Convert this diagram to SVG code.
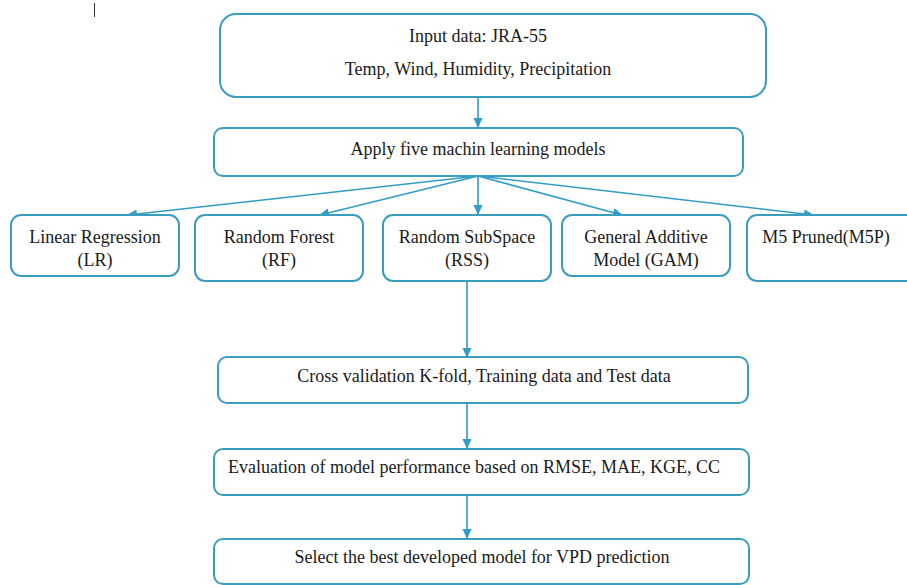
<svg xmlns="http://www.w3.org/2000/svg" width="907" height="585" viewBox="0 0 907 585">
<style>
.box{fill:#fff;stroke:#3b9dbd;stroke-width:2}
.t{font-family:'Liberation Serif','Times New Roman','DejaVu Serif',serif;font-size:18px;fill:#1a1a1a;text-anchor:middle}
.c{fill:none;stroke:#2f9dc6;stroke-width:1.6}
</style>
<defs>
<marker id="ah" markerWidth="10" markerHeight="10" refX="9" refY="5" orient="auto" markerUnits="userSpaceOnUse">
<path d="M0,0.5 L10,5 L0,9.5 Z" fill="#2f9dc6"/>
</marker>
</defs>
<rect width="907" height="585" fill="#fff"/>
<line x1="94.5" y1="3" x2="94.5" y2="17" stroke="#333" stroke-width="1"/>
<g id="connectors">
<line class="c" x1="478" y1="97" x2="478" y2="127" marker-end="url(#ah)"/>
<line class="c" x1="478" y1="176" x2="128" y2="215" marker-end="url(#ah)"/>
<line class="c" x1="478" y1="176" x2="320" y2="215" marker-end="url(#ah)"/>
<line class="c" x1="478" y1="176" x2="478" y2="214" marker-end="url(#ah)"/>
<line class="c" x1="478" y1="176" x2="622" y2="215" marker-end="url(#ah)"/>
<line class="c" x1="478" y1="176" x2="813" y2="215" marker-end="url(#ah)"/>
<line class="c" x1="467" y1="281" x2="467" y2="357" marker-end="url(#ah)"/>
<line class="c" x1="467" y1="403" x2="467" y2="448" marker-end="url(#ah)"/>
<line class="c" x1="467" y1="495" x2="467" y2="538" marker-end="url(#ah)"/>
</g>
<g id="input">
<rect class="box" x="220" y="14" width="546" height="83" rx="16"/>
<text class="t" x="478" y="42">Input data: JRA-55</text>
<text class="t" x="478" y="75">Temp, Wind, Humidity, Precipitation</text>
</g>
<g id="apply">
<rect class="box" x="214" y="128" width="529" height="48" rx="9"/>
<text class="t" x="478" y="155">Apply five machin learning models</text>
</g>
<g id="lr">
<rect class="box" x="11" y="215" width="168" height="61" rx="10"/>
<text class="t" x="95" y="243">Linear Regression</text>
<text class="t" x="95" y="266">(LR)</text>
</g>
<g id="rf">
<rect class="box" x="195" y="215" width="168" height="66" rx="10"/>
<text class="t" x="279" y="243">Random Forest</text>
<text class="t" x="279" y="266">(RF)</text>
</g>
<g id="rss">
<rect class="box" x="383" y="215" width="168" height="66" rx="10"/>
<text class="t" x="467" y="243">Random SubSpace</text>
<text class="t" x="467" y="266">(RSS)</text>
</g>
<g id="gam">
<rect class="box" x="562" y="215" width="168" height="61" rx="10"/>
<text class="t" x="646" y="243">General Additive</text>
<text class="t" x="646" y="266">Model (GAM)</text>
</g>
<g id="m5p">
<rect class="box" x="747" y="215" width="170" height="66" rx="10"/>
<text class="t" x="826" y="243">M5 Pruned(M5P)</text>
</g>
<g id="cv">
<rect class="box" x="218" y="357" width="530" height="46" rx="9"/>
<text class="t" x="484" y="382">Cross validation K-fold, Training data and Test data</text>
</g>
<g id="eval">
<rect class="box" x="214" y="449" width="535" height="46" rx="9"/>
<text class="t" x="228" y="473" style="text-anchor:start">Evaluation of model performance based on RMSE, MAE, KGE, CC</text>
</g>
<g id="select">
<rect class="box" x="214" y="539" width="535" height="45" rx="9"/>
<text class="t" x="482" y="563">Select the best developed model for VPD prediction</text>
</g>
</svg>
